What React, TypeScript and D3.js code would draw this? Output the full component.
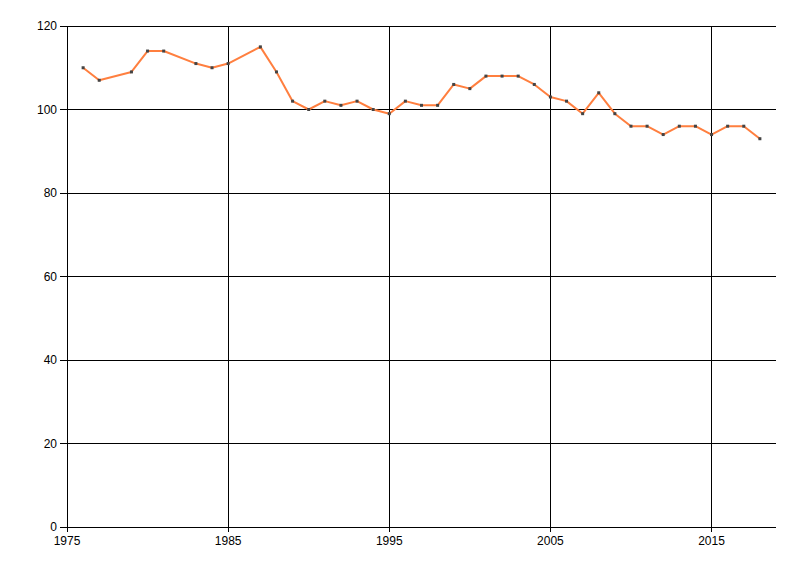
import React from 'react';
import * as d3 from 'd3';

const years = [
  1976, 1977, 1979, 1980, 1981, 1983, 1984, 1985, 1987, 1988, 1989, 1990, 1991,
  1992, 1993, 1994, 1995, 1996, 1997, 1998, 1999, 2000, 2001, 2002, 2003, 2004,
  2005, 2006, 2007, 2008, 2009, 2010, 2011, 2012, 2013, 2014, 2015, 2016, 2017,
  2018,
];
const values = [
  110, 107, 109, 114, 114, 111, 110, 111, 115, 109, 102, 100, 102, 101, 102, 100,
  99, 102, 101, 101, 106, 105, 108, 108, 108, 106, 103, 102, 99, 104, 99, 96, 96,
  94, 96, 96, 94, 96, 96, 93,
];
const xTicks = [1975, 1985, 1995, 2005, 2015];
const yTicks = [0, 20, 40, 60, 80, 100, 120];

const width = 800;
const height = 576;
const margin = { top: 26, right: 24, bottom: 49, left: 67 };

const App = () => {
  const x = d3
    .scaleLinear()
    .domain([1975, 2019])
    .range([margin.left, width - margin.right]);
  const y = d3
    .scaleLinear()
    .domain([0, 120])
    .range([height - margin.bottom, margin.top]);

  const points: [number, number][] = years.map((yr, i) => [x(yr), y(values[i])]);
  const line = d3.line()(points) || '';

  const font = '"Liberation Sans", Arial, sans-serif';
  const x0 = x(1975);
  const x1 = x(2019);
  const y0 = y(0);
  const yTop = y(120);

  return (
    <svg
      width={width}
      height={height}
      style={{ position: 'absolute', left: 0, top: 0, background: '#fff' }}
    >
      <g shapeRendering="crispEdges" stroke="#000" strokeWidth={1}>
        {yTicks.map((t) => (
          <line key={'gy' + t} x1={x0 - 7} x2={x1} y1={y(t)} y2={y(t)} />
        ))}
        {xTicks.map((t) => (
          <line key={'gx' + t} x1={x(t)} x2={x(t)} y1={yTop} y2={y0 + 5} />
        ))}
      </g>
      <g fontFamily={font} fontSize={12} fill="#000">
        {yTicks.map((t) => (
          <text key={'ly' + t} x={x0 - 10} y={y(t)} dy="0.35em" textAnchor="end">
            {t}
          </text>
        ))}
        {xTicks.map((t) => (
          <text key={'lx' + t} x={x(t)} y={y0 + 18} textAnchor="middle">
            {t}
          </text>
        ))}
      </g>
      <path d={line} fill="none" stroke="#FF7F3F" strokeWidth={2} strokeLinejoin="round" />
      <g fill="#444">
        {points.map(([px, py], i) => (
          <rect key={i} x={px - 1.5} y={py - 1.5} width={3} height={3} />
        ))}
      </g>
    </svg>
  );
};

export default App;
